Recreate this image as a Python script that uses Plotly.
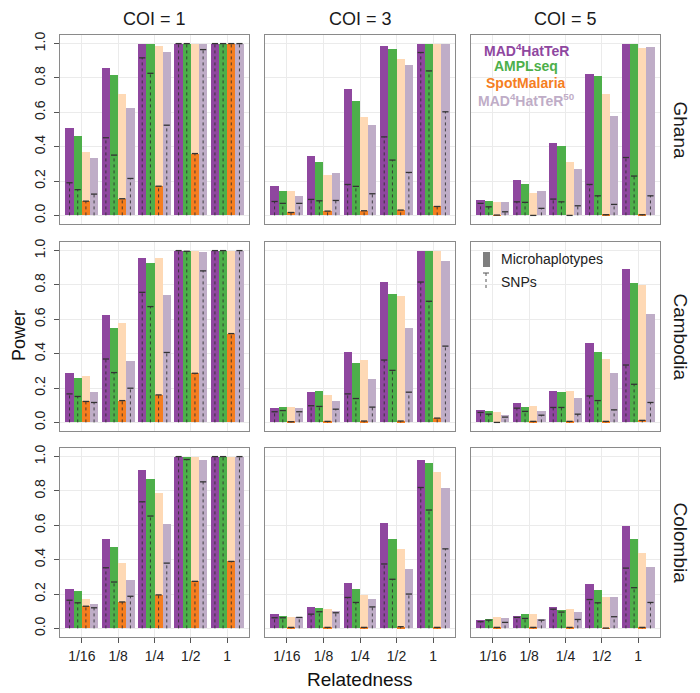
import plotly.graph_objects as go

relatedness = ["1/16", "1/8", "1/4", "1/2", "1"]
methods = ["MAD4HatTeR", "AMPLseq", "SpotMalaria", "MAD4HatTeR50"]
countries = ["Ghana", "Cambodia", "Colombia"]
coi_levels = [1, 3, 5]

# power with microhaplotypes, one row per method (order as in methods)
ghana_coi1_micro = [[0.51, 0.86, 1.00, 1.00, 1.00],
                    [0.46, 0.82, 0.996, 1.00, 1.00],
                    [0.37, 0.705, 0.986, 1.00, 1.00],
                    [0.337, 0.626, 0.95, 1.00, 1.00]]
ghana_coi1_snp = [[0.19, 0.452, 0.917, 1.00, 1.00],
                  [0.15, 0.351, 0.827, 1.00, 1.00],
                  [0.083, 0.097, 0.17, 0.36, 1.00],
                  [0.124, 0.215, 0.525, 0.965, 1.00]]
ghana_coi3_micro = [[0.174, 0.347, 0.733, 0.986, 1.00],
                    [0.141, 0.31, 0.667, 0.967, 1.00],
                    [0.141, 0.233, 0.574, 0.913, 1.00],
                    [0.114, 0.244, 0.525, 0.874, 1.00]]
ghana_coi3_snp = [[0.081, 0.093, 0.18, 0.457, 0.948],
                  [0.07, 0.085, 0.169, 0.322, 0.841],
                  [0.017, 0.025, 0.027, 0.031, 0.052],
                  [0.07, 0.087, 0.126, 0.25, 0.603]]
ghana_coi5_micro = [[0.089, 0.205, 0.424, 0.822, 1.00],
                    [0.083, 0.182, 0.405, 0.81, 1.00],
                    [0.079, 0.132, 0.312, 0.705, 0.977],
                    [0.079, 0.145, 0.269, 0.576, 0.98]]
ghana_coi5_snp = [[0.07, 0.079, 0.095, 0.18, 0.337],
                  [0.05, 0.076, 0.079, 0.114, 0.229],
                  [0.002, 0.0, 0.0, 0.004, 0.004],
                  [0.021, 0.041, 0.056, 0.064, 0.114]]

cambodia_coi1_micro = [[0.286, 0.627, 0.956, 1.00, 1.00],
                       [0.257, 0.55, 0.927, 0.996, 1.00],
                       [0.27, 0.581, 0.954, 1.00, 1.00],
                       [0.176, 0.359, 0.743, 0.99, 1.00]]
cambodia_coi1_snp = [[0.166, 0.369, 0.757, 1.00, 1.00],
                     [0.151, 0.29, 0.674, 0.996, 1.00],
                     [0.122, 0.127, 0.16, 0.286, 0.517],
                     [0.116, 0.199, 0.407, 0.882, 1.00]]
cambodia_coi3_micro = [[0.083, 0.176, 0.407, 0.817, 0.996],
                       [0.089, 0.185, 0.344, 0.749, 0.996],
                       [0.089, 0.16, 0.361, 0.737, 0.996],
                       [0.081, 0.124, 0.251, 0.552, 0.94]]
cambodia_coi3_snp = [[0.062, 0.097, 0.166, 0.363, 0.817],
                     [0.069, 0.093, 0.139, 0.303, 0.705],
                     [0.004, 0.006, 0.008, 0.008, 0.025],
                     [0.062, 0.077, 0.089, 0.176, 0.444]]
cambodia_coi5_micro = [[0.073, 0.112, 0.18, 0.463, 0.894],
                       [0.068, 0.089, 0.176, 0.407, 0.813],
                       [0.058, 0.097, 0.18, 0.369, 0.797],
                       [0.042, 0.068, 0.141, 0.286, 0.629]]
cambodia_coi5_snp = [[0.058, 0.083, 0.087, 0.154, 0.334],
                     [0.048, 0.064, 0.087, 0.127, 0.222],
                     [0.0, 0.006, 0.006, 0.006, 0.012],
                     [0.031, 0.042, 0.048, 0.073, 0.116]]

colombia_coi1_micro = [[0.232, 0.519, 0.921, 1.00, 1.00],
                       [0.216, 0.473, 0.867, 0.998, 1.00],
                       [0.172, 0.38, 0.79, 0.998, 1.00],
                       [0.143, 0.284, 0.608, 0.981, 1.00]]
colombia_coi1_snp = [[0.164, 0.353, 0.737, 1.00, 1.00],
                     [0.149, 0.27, 0.654, 0.983, 1.00],
                     [0.129, 0.154, 0.195, 0.274, 0.39],
                     [0.12, 0.187, 0.38, 0.853, 1.00]]
colombia_coi3_micro = [[0.083, 0.124, 0.266, 0.616, 0.981],
                       [0.071, 0.118, 0.232, 0.519, 0.961],
                       [0.068, 0.112, 0.197, 0.463, 0.913],
                       [0.069, 0.10, 0.172, 0.346, 0.815]]
colombia_coi3_snp = [[0.062, 0.083, 0.18, 0.375, 0.82],
                     [0.062, 0.097, 0.151, 0.286, 0.689],
                     [0.006, 0.006, 0.006, 0.01, 0.006],
                     [0.064, 0.091, 0.125, 0.20, 0.463]]
colombia_coi5_micro = [[0.048, 0.071, 0.122, 0.257, 0.595],
                       [0.054, 0.081, 0.106, 0.226, 0.519],
                       [0.064, 0.083, 0.112, 0.183, 0.44],
                       [0.062, 0.054, 0.097, 0.185, 0.357]]
colombia_coi5_snp = [[0.039, 0.064, 0.112, 0.168, 0.351],
                     [0.048, 0.058, 0.095, 0.149, 0.237],
                     [0.006, 0.006, 0.006, 0.002, 0.006],
                     [0.035, 0.048, 0.052, 0.068, 0.151]]

panels = {
    ("Ghana", 1): (ghana_coi1_micro, ghana_coi1_snp),
    ("Ghana", 3): (ghana_coi3_micro, ghana_coi3_snp),
    ("Ghana", 5): (ghana_coi5_micro, ghana_coi5_snp),
    ("Cambodia", 1): (cambodia_coi1_micro, cambodia_coi1_snp),
    ("Cambodia", 3): (cambodia_coi3_micro, cambodia_coi3_snp),
    ("Cambodia", 5): (cambodia_coi5_micro, cambodia_coi5_snp),
    ("Colombia", 1): (colombia_coi1_micro, colombia_coi1_snp),
    ("Colombia", 3): (colombia_coi3_micro, colombia_coi3_snp),
    ("Colombia", 5): (colombia_coi5_micro, colombia_coi5_snp),
}

# page has an 8px body margin, so the figure is a bit smaller and offset
PAD = 8
W, H = 700 - PAD, 693 - PAD
FONT = "Liberation Sans, Arial, sans-serif"
bar_colors = ["#8f479f", "#4daf4a", "#fed9b5", "#bfadc7"]
snp_orange = "#f57e1f"
text_colors = ["#8f479f", "#4daf4a", "#f57e1f", "#bfadc7"]
bar_w = 0.225
offsets = [-0.3375, -0.1125, 0.1125, 0.3375]

# panel pixel boxes (window coordinates)
col_px = [(60, 249), (265, 455), (471, 660)]
row_px = [(35, 224), (242, 431), (448, 637)]


def px_x(v):
    return (v - PAD) / W


def px_y(v):
    return 1 - (v - PAD) / H


def label(text, x, y, size, color, angle=0, xanchor="center"):
    return dict(text=text, x=px_x(x), y=px_y(y), xref="paper", yref="paper",
                xanchor=xanchor, yanchor="middle", showarrow=False, textangle=angle,
                font=dict(family=FONT, size=size, color=color))


fig = go.Figure()
layout = {}

for r, country in enumerate(countries):
    for c, coi in enumerate(coi_levels):
        p = r * 3 + c
        xa = "x" if p == 0 else f"x{p + 1}"
        ya = "y" if p == 0 else f"y{p + 1}"
        micro, snp = panels[(country, coi)]

        for m in range(len(methods)):
            xs = [i + offsets[m] for i in range(len(relatedness))]
            fig.add_trace(go.Bar(x=xs, y=micro[m], width=bar_w,
                                 marker=dict(color=bar_colors[m], line=dict(width=0)),
                                 name=methods[m], showlegend=False,
                                 xaxis=xa, yaxis=ya))
        # SpotMalaria SNP power drawn as solid bar
        xs = [i + offsets[2] for i in range(len(relatedness))]
        fig.add_trace(go.Bar(x=xs, y=snp[2], width=bar_w,
                             marker=dict(color=snp_orange, line=dict(width=0)),
                             name="SpotMalaria SNPs", showlegend=False,
                             xaxis=xa, yaxis=ya))

        # dashed SNP lines with a tick on top
        lx, ly, tx, ty = [], [], [], []
        for m in range(len(methods)):
            for i in range(len(relatedness)):
                xc = i + offsets[m]
                v = snp[m][i]
                lx += [xc, xc, None]
                ly += [0, v, None]
                tx += [xc - 0.085, xc + 0.085, None]
                ty += [v, v, None]
        fig.add_trace(go.Scatter(x=lx, y=ly, mode="lines",
                                 line=dict(color="rgba(45,45,45,0.85)", width=1, dash="3px,3px"),
                                 showlegend=False, hoverinfo="skip",
                                 xaxis=xa, yaxis=ya))
        fig.add_trace(go.Scatter(x=tx, y=ty, mode="lines",
                                 line=dict(color="#333333", width=1.3),
                                 showlegend=False, hoverinfo="skip",
                                 xaxis=xa, yaxis=ya))

        x0, x1 = col_px[c]
        y0, y1 = row_px[r]
        layout["xaxis" if p == 0 else f"xaxis{p + 1}"] = dict(
            domain=[px_x(x0), px_x(x1)], anchor=ya, automargin=False,
            range=[-0.6, 4.6],
            tickmode="array", tickvals=list(range(len(relatedness))),
            ticktext=relatedness, showticklabels=(r == 2),
            ticks="outside" if r == 2 else "", ticklen=5, tickcolor="#555555",
            ticklabelstandoff=1,
            tickfont=dict(family=FONT, size=14, color="#222222"),
            showgrid=True, gridcolor="#ebebeb", gridwidth=1,
            showline=True, mirror=True, linecolor="#8a8a8a", linewidth=1,
            zeroline=False, fixedrange=True)
        layout["yaxis" if p == 0 else f"yaxis{p + 1}"] = dict(
            domain=[px_y(y1), px_y(y0)], anchor=xa, automargin=False,
            range=[-0.05, 1.05],
            tickmode="array", tickvals=[0, 0.2, 0.4, 0.6, 0.8, 1.0],
            ticktext=["0.0", "0.2", "0.4", "0.6", "0.8", "1.0"],
            showticklabels=(c == 0), tickangle=-90,
            ticks="outside" if c == 0 else "", ticklen=5, tickcolor="#555555",
            ticklabelstandoff=3,
            tickfont=dict(family=FONT, size=14, color="#222222"),
            showgrid=True, gridcolor="#ebebeb", gridwidth=1,
            showline=True, mirror=True, linecolor="#8a8a8a", linewidth=1,
            zeroline=False, fixedrange=True)

annotations = []
for c, coi in enumerate(coi_levels):
    x0, x1 = col_px[c]
    annotations.append(label(f"COI = {coi}", (x0 + x1) / 2, 19, 18, "#1a1a1a"))
for r, country in enumerate(countries):
    y0, y1 = row_px[r]
    annotations.append(label(country, 680, (y0 + y1) / 2, 19, "#1a1a1a", angle=90))
annotations.append(label("Power", 19, 336, 18, "#111111", angle=-90))
annotations.append(label("Relatedness", 360, 679, 19, "#111111"))

# method legend (coloured text)
method_labels = ["MAD<sup>4</sup>HatTeR", "AMPLseq", "SpotMalaria", "MAD<sup>4</sup>HatTeR<sup>50</sup>"]
method_y = [50, 66, 83, 100]
for lab, yy, col in zip(method_labels, method_y, text_colors):
    annotations.append(label(f"<b>{lab}</b>", 526, yy, 14, col))

# marker-type legend
annotations.append(label("Microhaplotypes", 499, 259, 14, "#222222", xanchor="left"))
annotations.append(label("SNPs", 499, 282, 14, "#222222", xanchor="left"))
shapes = [
    dict(type="rect", xref="paper", yref="paper", x0=px_x(483), x1=px_x(490),
         y0=px_y(267), y1=px_y(252), fillcolor="#7f7f7f", line=dict(width=0)),
    dict(type="line", xref="paper", yref="paper", x0=px_x(483), x1=px_x(489),
         y0=px_y(273), y1=px_y(273), line=dict(color="#555555", width=1)),
    dict(type="line", xref="paper", yref="paper", x0=px_x(486), x1=px_x(486),
         y0=px_y(273), y1=px_y(288), line=dict(color="#555555", width=1, dash="3px,3px")),
]

fig.update_layout(**layout)
fig.update_layout(width=W, height=H, margin=dict(l=0, r=0, t=0, b=0),
                  barmode="overlay", bargap=0,
                  paper_bgcolor="white", plot_bgcolor="white",
                  annotations=annotations, shapes=shapes,
                  font=dict(family=FONT))

fig.write_html("out.html")
